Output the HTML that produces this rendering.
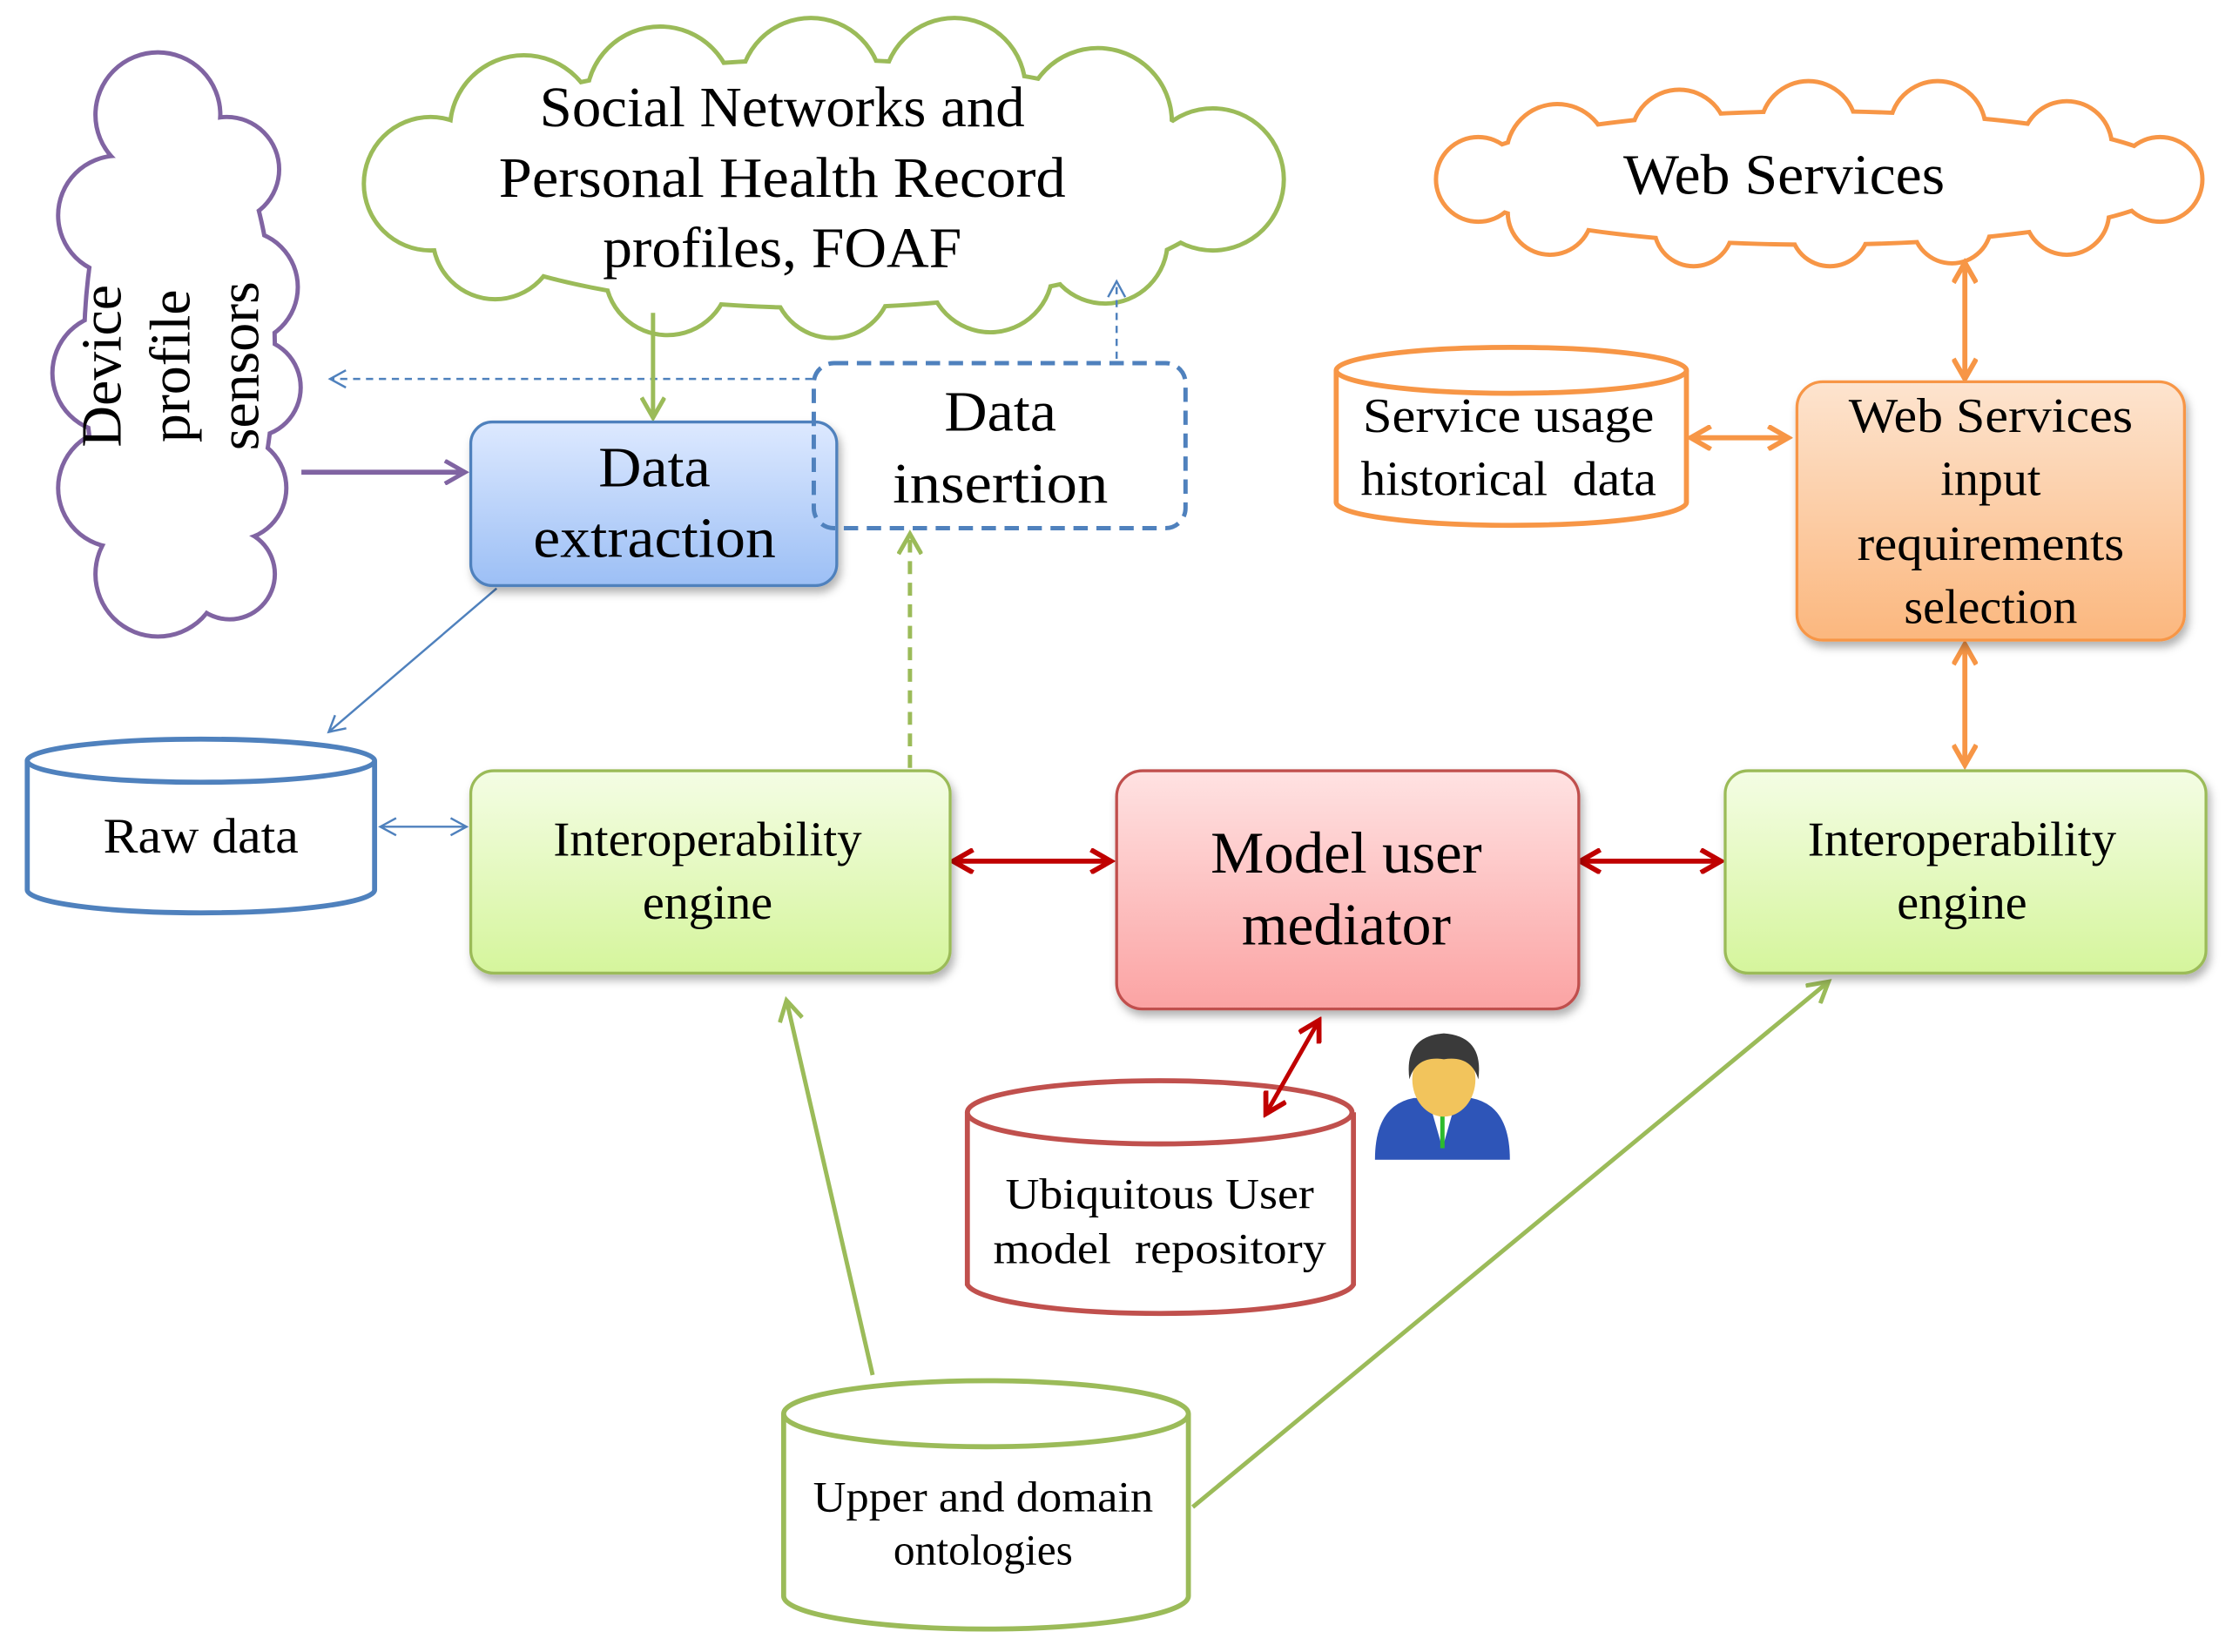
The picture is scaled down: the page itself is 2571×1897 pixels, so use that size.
<!DOCTYPE html>
<html><head><meta charset="utf-8"><style>
html,body{margin:0;padding:0;background:#fff;}
svg{display:block;}
text{font-family:"Liberation Serif",serif;fill:#000;}
</style></head><body>
<svg width="2571" height="1897" viewBox="0 0 1560 1151" preserveAspectRatio="none" xmlns="http://www.w3.org/2000/svg">
<defs>
<linearGradient id="gb" x1="0" y1="0" x2="0" y2="1"><stop offset="0" stop-color="#dde9ff"/><stop offset="1" stop-color="#9cbff5"/></linearGradient>
<linearGradient id="gg" x1="0" y1="0" x2="0" y2="1"><stop offset="0" stop-color="#f4fde4"/><stop offset="1" stop-color="#d5f59c"/></linearGradient>
<linearGradient id="gr" x1="0" y1="0" x2="0" y2="1"><stop offset="0" stop-color="#ffe2e2"/><stop offset="1" stop-color="#fba3a3"/></linearGradient>
<linearGradient id="go" x1="0" y1="0" x2="0" y2="1"><stop offset="0" stop-color="#fde4cf"/><stop offset="1" stop-color="#fbb77e"/></linearGradient>
<marker id="aBlue" markerWidth="14" markerHeight="14" refX="12" refY="7" orient="auto" markerUnits="userSpaceOnUse"><path d="M1,1 L12,7 L1,13" fill="none" stroke="#4f81bd" stroke-width="1.5"/></marker>
<marker id="aBlueS" markerWidth="14" markerHeight="14" refX="2" refY="7" orient="auto" markerUnits="userSpaceOnUse"><path d="M13,1 L2,7 L13,13" fill="none" stroke="#4f81bd" stroke-width="1.5"/></marker>
<marker id="aGreen" markerWidth="18" markerHeight="18" refX="15" refY="9" orient="auto" markerUnits="userSpaceOnUse"><path d="M1,1 L15,9 L1,17" fill="none" stroke="#9bbb59" stroke-width="3"/></marker>
<marker id="aPurple" markerWidth="18" markerHeight="18" refX="15" refY="9" orient="auto" markerUnits="userSpaceOnUse"><path d="M1,1 L15,9 L1,17" fill="none" stroke="#8064a2" stroke-width="3"/></marker>
<marker id="aRed" markerWidth="18" markerHeight="18" refX="15" refY="9" orient="auto" markerUnits="userSpaceOnUse"><path d="M1,1 L15,9 L1,17" fill="none" stroke="#c00000" stroke-width="3.5"/></marker>
<marker id="aRedS" markerWidth="18" markerHeight="18" refX="3" refY="9" orient="auto" markerUnits="userSpaceOnUse"><path d="M17,1 L3,9 L17,17" fill="none" stroke="#c00000" stroke-width="3.5"/></marker>
<marker id="aOr" markerWidth="18" markerHeight="18" refX="15" refY="9" orient="auto" markerUnits="userSpaceOnUse"><path d="M1,1 L15,9 L1,17" fill="none" stroke="#f79646" stroke-width="3.5"/></marker>
<marker id="aOrS" markerWidth="18" markerHeight="18" refX="3" refY="9" orient="auto" markerUnits="userSpaceOnUse"><path d="M17,1 L3,9 L17,17" fill="none" stroke="#f79646" stroke-width="3.5"/></marker>
<filter id="sh" x="-10%" y="-10%" width="130%" height="130%"><feDropShadow dx="2" dy="4" stdDeviation="3" flood-color="#000" flood-opacity="0.3"/></filter>
</defs>

<!-- Device cloud -->
<g stroke="#8064a2" stroke-width="6" fill="#8064a2">
<circle cx="110" cy="80" r="42"/><circle cx="158" cy="118" r="35"/><circle cx="82" cy="150" r="40"/><circle cx="168" cy="200" r="38"/><circle cx="78" cy="260" r="40"/><circle cx="175" cy="270" r="33"/><circle cx="82" cy="340" r="40"/><circle cx="163" cy="340" r="35"/><circle cx="110" cy="400" r="42"/><circle cx="160" cy="400" r="30"/>
<ellipse cx="125" cy="245" rx="65" ry="175"/>
</g>
<g fill="#fff">
<circle cx="110" cy="80" r="42"/><circle cx="158" cy="118" r="35"/><circle cx="82" cy="150" r="40"/><circle cx="168" cy="200" r="38"/><circle cx="78" cy="260" r="40"/><circle cx="175" cy="270" r="33"/><circle cx="82" cy="340" r="40"/><circle cx="163" cy="340" r="35"/><circle cx="110" cy="400" r="42"/><circle cx="160" cy="400" r="30"/>
<ellipse cx="125" cy="245" rx="65" ry="175"/>
</g>
<g font-size="40">
<text transform="translate(84,255) rotate(-90)" text-anchor="middle">Device</text>
<text transform="translate(132,255) rotate(-90)" text-anchor="middle">profile</text>
<text transform="translate(180,255) rotate(-90)" text-anchor="middle">sensors</text>
</g>

<!-- Social cloud -->
<g stroke="#9bbb59" stroke-width="6" fill="#9bbb59">
<circle cx="300" cy="128" r="45"/><circle cx="365" cy="90" r="50"/><circle cx="460" cy="70" r="50"/><circle cx="565" cy="62" r="48"/><circle cx="665" cy="62" r="48"/><circle cx="765" cy="85" r="50"/><circle cx="845" cy="125" r="48"/><circle cx="770" cy="168" r="42"/><circle cx="690" cy="188" r="42"/><circle cx="580" cy="194" r="40"/><circle cx="465" cy="190" r="42"/><circle cx="345" cy="165" r="42"/>
<ellipse cx="570" cy="128" rx="285" ry="85"/>
</g>
<g fill="#fff">
<circle cx="300" cy="128" r="45"/><circle cx="365" cy="90" r="50"/><circle cx="460" cy="70" r="50"/><circle cx="565" cy="62" r="48"/><circle cx="665" cy="62" r="48"/><circle cx="765" cy="85" r="50"/><circle cx="845" cy="125" r="48"/><circle cx="770" cy="168" r="42"/><circle cx="690" cy="188" r="42"/><circle cx="580" cy="194" r="40"/><circle cx="465" cy="190" r="42"/><circle cx="345" cy="165" r="42"/>
<ellipse cx="570" cy="128" rx="285" ry="85"/>
</g>
<g font-size="40" text-anchor="middle">
<text x="545" y="88" textLength="338" lengthAdjust="spacingAndGlyphs">Social Networks and</text>
<text x="545" y="137" textLength="395" lengthAdjust="spacingAndGlyphs">Personal Health Record</text>
<text x="545" y="186" textLength="250" lengthAdjust="spacingAndGlyphs">profiles, FOAF</text>
</g>

<!-- Web services cloud -->
<g stroke="#f79646" stroke-width="6" fill="#f79646">
<circle cx="1030" cy="125" r="28"/><circle cx="1085" cy="108" r="34"/><circle cx="1170" cy="96" r="32"/><circle cx="1260" cy="90" r="32"/><circle cx="1350" cy="90" r="32"/><circle cx="1440" cy="102" r="30"/><circle cx="1505" cy="125" r="28"/><circle cx="1440" cy="148" r="28"/><circle cx="1360" cy="156" r="26"/><circle cx="1275" cy="158" r="26"/><circle cx="1180" cy="158" r="26"/><circle cx="1080" cy="148" r="28"/>
<ellipse cx="1265" cy="124" rx="250" ry="45"/>
</g>
<g fill="#fff">
<circle cx="1030" cy="125" r="28"/><circle cx="1085" cy="108" r="34"/><circle cx="1170" cy="96" r="32"/><circle cx="1260" cy="90" r="32"/><circle cx="1350" cy="90" r="32"/><circle cx="1440" cy="102" r="30"/><circle cx="1505" cy="125" r="28"/><circle cx="1440" cy="148" r="28"/><circle cx="1360" cy="156" r="26"/><circle cx="1275" cy="158" r="26"/><circle cx="1180" cy="158" r="26"/><circle cx="1080" cy="148" r="28"/>
<ellipse cx="1265" cy="124" rx="250" ry="45"/>
</g>
<text x="1243" y="135" font-size="40" text-anchor="middle" textLength="224" lengthAdjust="spacingAndGlyphs">Web Services</text>

<!-- Connectors -->
<line x1="566" y1="264" x2="230" y2="264" stroke="#4f81bd" stroke-width="1.5" stroke-dasharray="5,4" marker-end="url(#aBlue)"/>
<line x1="778" y1="250" x2="778" y2="196" stroke="#4f81bd" stroke-width="1.5" stroke-dasharray="5,4" marker-end="url(#aBlue)"/>
<line x1="455" y1="218" x2="455" y2="291" stroke="#9bbb59" stroke-width="3" marker-end="url(#aGreen)"/>
<line x1="210" y1="329" x2="324" y2="329" stroke="#8064a2" stroke-width="3.5" marker-end="url(#aPurple)"/>
<line x1="346" y1="410" x2="229" y2="510" stroke="#4f81bd" stroke-width="1.5" marker-end="url(#aBlue)"/>
<line x1="265" y1="576" x2="325" y2="576" stroke="#4f81bd" stroke-width="1.5" marker-start="url(#aBlueS)" marker-end="url(#aBlue)"/>
<line x1="634" y1="535" x2="634" y2="372" stroke="#9bbb59" stroke-width="3" stroke-dasharray="9,6" marker-end="url(#aGreen)"/>
<line x1="664" y1="600" x2="774" y2="600" stroke="#c00000" stroke-width="3.5" marker-start="url(#aRedS)" marker-end="url(#aRed)"/>
<line x1="1101" y1="600" x2="1199" y2="600" stroke="#c00000" stroke-width="3.5" marker-start="url(#aRedS)" marker-end="url(#aRed)"/>
<line x1="1369" y1="183" x2="1369" y2="264" stroke="#f79646" stroke-width="3.5" marker-start="url(#aOrS)" marker-end="url(#aOr)"/>
<line x1="1369" y1="449" x2="1369" y2="533" stroke="#f79646" stroke-width="3.5" marker-start="url(#aOrS)" marker-end="url(#aOr)"/>
<line x1="1178" y1="305" x2="1246" y2="305" stroke="#f79646" stroke-width="3.5" marker-start="url(#aOrS)" marker-end="url(#aOr)"/>
<line x1="608" y1="958" x2="548" y2="697" stroke="#9bbb59" stroke-width="3" marker-end="url(#aGreen)"/>
<line x1="831" y1="1050" x2="1274" y2="684" stroke="#9bbb59" stroke-width="3" marker-end="url(#aGreen)"/>

<!-- Data extraction -->
<rect x="328" y="294" width="255" height="114" rx="15" fill="url(#gb)" stroke="#4f81bd" stroke-width="2" filter="url(#sh)"/>
<g font-size="40" text-anchor="middle"><text x="456" y="339" textLength="78" lengthAdjust="spacingAndGlyphs">Data</text><text x="456" y="388" textLength="169" lengthAdjust="spacingAndGlyphs">extraction</text></g>

<!-- Data insertion -->
<rect x="567" y="253" width="259" height="115" rx="14" fill="none" stroke="#4f81bd" stroke-width="3" stroke-dasharray="10,6"/>
<g font-size="40" text-anchor="middle"><text x="697" y="300" textLength="78" lengthAdjust="spacingAndGlyphs">Data</text><text x="697" y="350" textLength="150" lengthAdjust="spacingAndGlyphs">insertion</text></g>

<!-- Raw data cylinder -->
<path d="M19,530 L19,620 A121,16 0 0 0 261,620 L261,530" fill="#fff" stroke="#4f81bd" stroke-width="3.5"/>
<ellipse cx="140" cy="530" rx="121" ry="15" fill="#fff" stroke="#4f81bd" stroke-width="3.5"/>
<text x="140" y="594" font-size="35" text-anchor="middle" textLength="136" lengthAdjust="spacingAndGlyphs">Raw data</text>

<!-- Interop left -->
<rect x="328" y="537" width="334" height="141" rx="16" fill="url(#gg)" stroke="#9bbb59" stroke-width="2" filter="url(#sh)"/>
<g font-size="34" text-anchor="middle"><text x="493" y="596" textLength="215" lengthAdjust="spacingAndGlyphs">Interoperability</text><text x="493" y="640">engine</text></g>

<!-- Model user mediator -->
<rect x="778" y="537" width="322" height="166" rx="18" fill="url(#gr)" stroke="#c0504d" stroke-width="2" filter="url(#sh)"/>
<g font-size="41" text-anchor="middle"><text x="938" y="608" textLength="189" lengthAdjust="spacingAndGlyphs">Model user</text><text x="938" y="658">mediator</text></g>

<!-- Interop right -->
<rect x="1202" y="537" width="335" height="141" rx="16" fill="url(#gg)" stroke="#9bbb59" stroke-width="2" filter="url(#sh)"/>
<g font-size="34" text-anchor="middle"><text x="1367" y="596" textLength="215" lengthAdjust="spacingAndGlyphs">Interoperability</text><text x="1367" y="640">engine</text></g>

<!-- WS input -->
<rect x="1252" y="266" width="270" height="180" rx="18" fill="url(#go)" stroke="#f79646" stroke-width="2" filter="url(#sh)"/>
<g font-size="34" text-anchor="middle"><text x="1387" y="301" textLength="198" lengthAdjust="spacingAndGlyphs">Web Services</text><text x="1387" y="345">input</text><text x="1387" y="390" textLength="186" lengthAdjust="spacingAndGlyphs">requirements</text><text x="1387" y="434">selection</text></g>

<!-- Service usage cylinder -->
<path d="M931,258 L931,350 A122,16 0 0 0 1175,350 L1175,258" fill="#fff" stroke="#f79646" stroke-width="3.5"/>
<ellipse cx="1053" cy="258" rx="122" ry="16" fill="#fff" stroke="#f79646" stroke-width="3.5"/>
<g font-size="34" text-anchor="middle"><text x="1051" y="301" textLength="203" lengthAdjust="spacingAndGlyphs">Service usage</text><text x="1051" y="345" xml:space="preserve" textLength="206" lengthAdjust="spacingAndGlyphs">historical  data</text></g>

<!-- Ubiquitous cylinder -->
<path d="M674,775 L674,895 A135,22 0 0 0 943,895 L943,775" fill="#fff" stroke="#c0504d" stroke-width="3.5"/>
<ellipse cx="808" cy="775" rx="134" ry="22" fill="#fff" stroke="#c0504d" stroke-width="3.5"/>
<g font-size="30" text-anchor="middle"><text x="808" y="842" textLength="215" lengthAdjust="spacingAndGlyphs">Ubiquitous User</text><text x="808" y="880" xml:space="preserve" textLength="232" lengthAdjust="spacingAndGlyphs">model  repository</text></g>
<line x1="919" y1="711" x2="882" y2="776" stroke="#c00000" stroke-width="3" marker-start="url(#aRedS)" marker-end="url(#aRed)"/>

<!-- Upper ontologies cylinder -->
<path d="M546,985 L546,1112 A141,23 0 0 0 828,1112 L828,985" fill="#fff" stroke="#9bbb59" stroke-width="3.5"/>
<ellipse cx="687" cy="985" rx="141" ry="23" fill="#fff" stroke="#9bbb59" stroke-width="3.5"/>
<g font-size="30" text-anchor="middle"><text x="685" y="1053" textLength="237" lengthAdjust="spacingAndGlyphs">Upper and domain</text><text x="685" y="1090">ontologies</text></g>

<!-- Person icon -->
<g>
<path d="M958,808 Q958,770 985,765 L1025,765 Q1052,770 1052,808 Z" fill="#2e55b8"/>
<path d="M995,765 L1005,800 L1015,765 Z" fill="#fff"/>
<line x1="1005" y1="770" x2="1005" y2="800" stroke="#2dbb2d" stroke-width="3"/>
<ellipse cx="1006" cy="752" rx="22" ry="26" fill="#f2c45c"/>
<path d="M982,752 Q978,722 1006,720 Q1034,722 1030,752 Q1025,735 1006,738 Q987,735 982,752 Z" fill="#3a3a3a"/>
</g>
</svg>
</body></html>
